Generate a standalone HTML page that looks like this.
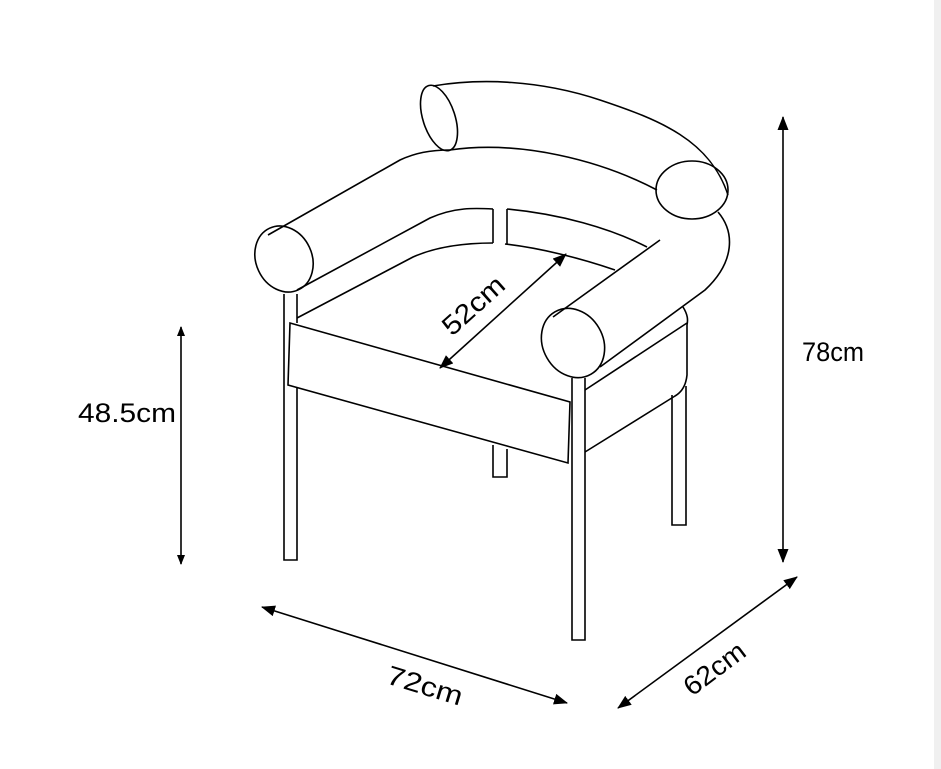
<!DOCTYPE html>
<html><head><style>
html,body{margin:0;padding:0;background:#fff;}
svg{display:block;}
text{font-family:"Liberation Sans",sans-serif;font-size:27px;fill:#000;}
</style></head><body>
<svg width="941" height="769" viewBox="0 0 941 769">
<defs><marker id="a" markerWidth="10" markerHeight="10" refX="9" refY="5" orient="auto-start-reverse" markerUnits="userSpaceOnUse" viewBox="0 0 10 10"><path d="M0,1 L10,5 L0,9 Z" fill="#000"/></marker>
<marker id="b" markerWidth="14" markerHeight="14" refX="13" refY="7" orient="auto-start-reverse" markerUnits="userSpaceOnUse" viewBox="0 0 14 14"><path d="M0,1.5 L14,7 L0,12.5 Z" fill="#000"/></marker></defs>
<rect x="934" y="0" width="7" height="769" fill="#f0f0f0"/>
<g fill="none" stroke="#000" stroke-width="1.6">
<!-- back roll -->
<path d="M433,86 C480,78 540,80 600,100 C660,120 710,140 728,195"/>
<path d="M450,150 C520,140 600,160 657,190"/>
<ellipse cx="439" cy="118" rx="16" ry="34" transform="rotate(-18 439 118)"/>
<ellipse cx="692" cy="190" rx="36" ry="29"/>
<!-- left arm top -->
<path d="M268,235 L400,160 C415,153 430,150 450,150"/>
<!-- right arm -->
<path d="M718,212 C735,232 735,262 705,290 L600,367"/>
<path d="M660,240 L553,317"/>
<ellipse cx="573" cy="343" rx="30" ry="36" transform="rotate(-30 573 343)"/>
<!-- left arm -->
<ellipse cx="284" cy="259" rx="28" ry="34" transform="rotate(-25 284 259)"/>
<path d="M297,290 L430,218 C455,207 475,208 493,209"/>
<path d="M507,209 C560,214 610,228 647,247"/>
<path d="M297,318 L413,257 C440,245 470,243 493,243"/>
<path d="M505,244 C540,248 580,258 615,270"/>
<line x1="493" y1="209" x2="493" y2="243"/><line x1="507" y1="209" x2="507" y2="244"/>
<!-- seat -->
<path d="M290,323 L570,402 L568,463 L288,385 Z"/>
<!-- right seat side -->
<path d="M683,307 C688,315 688,320 687,325 L687,375 C686,385 682,392 675,396 L585,452"/>
<path d="M687,323 L585,390"/>
<!-- legs -->
<path d="M284,294 L284,560 L297,560 L297,387"/>
<line x1="297" y1="294" x2="297" y2="323"/>
<path d="M572,378 L572,640 L585,640 L585,378"/>
<path d="M672,395 L672,525 L686,525 L686,386"/>
<path d="M493,445 L493,477 L507,477 L507,449"/>
</g>
<g stroke="#000" stroke-width="1.6">
<line x1="181" y1="327" x2="181" y2="564" marker-start="url(#a)" marker-end="url(#a)"/>
<line x1="783" y1="117" x2="783" y2="562" marker-start="url(#b)" marker-end="url(#b)"/>
<line x1="262" y1="607" x2="567" y2="703" marker-start="url(#b)" marker-end="url(#b)"/>
<line x1="618" y1="708" x2="797" y2="577" marker-start="url(#b)" marker-end="url(#b)"/>
<line x1="440" y1="368" x2="566" y2="254" marker-start="url(#b)" marker-end="url(#b)"/>
</g>
<text x="78" y="422" textLength="98" lengthAdjust="spacingAndGlyphs">48.5cm</text>
<text x="802" y="361" textLength="62" lengthAdjust="spacingAndGlyphs">78cm</text>
<text transform="translate(385,683) rotate(17)" textLength="78" lengthAdjust="spacingAndGlyphs">72cm</text>
<text transform="translate(692,697) rotate(-37)" textLength="70" lengthAdjust="spacingAndGlyphs">62cm</text>
<text transform="translate(452,337) rotate(-42)" textLength="74" lengthAdjust="spacingAndGlyphs">52cm</text>
</svg>
</body></html>
